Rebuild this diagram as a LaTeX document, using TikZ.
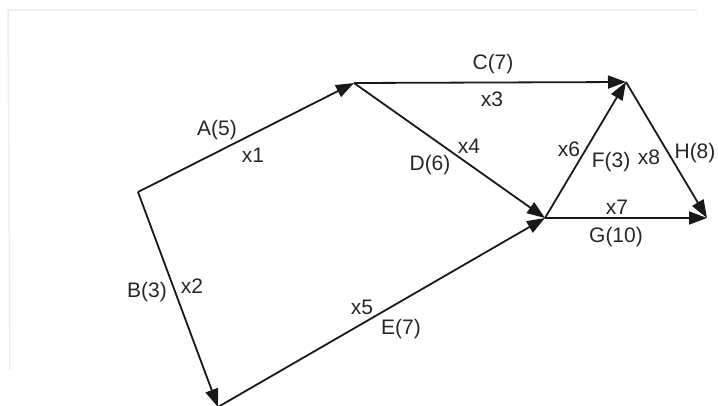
\documentclass[tikz,border=0pt]{standalone}
\usepackage{fontspec}
\setmainfont{Liberation Sans}
\usetikzlibrary{arrows.meta}
\begin{document}
\begin{tikzpicture}[x=1pt,y=-1pt,
  edge/.style={draw=black!90, line width=1.8pt, -{Triangle[length=18pt,width=13pt]}},
  lbl/.style={font=\fontsize{21}{21}\selectfont, text=black!85, inner sep=0pt, anchor=center},
  frame/.style={draw=black!7, line width=1.5pt}]
\useasboundingbox (0,0) rectangle (718,405);
% faint frame
\coordinate (f1) at (8,10);
\coordinate (f2) at (697,10);
\coordinate (f3) at (10,370);
\draw[frame] (f2) -- (f1) -- (f3);
% vertices
\coordinate (n1) at (138,192);
\coordinate (n2) at (354,83);
\coordinate (n3) at (626,82);
\coordinate (n4) at (545,218);
\coordinate (n5) at (218,407);
\coordinate (n6) at (707,218);
% edges
\draw[edge] (n1) -- (n2);
\draw[edge] (n1) -- (n5);
\draw[edge] (n2) -- (n3);
\draw[edge] (n2) -- (n4);
\draw[edge] (n5) -- (n4);
\draw[edge] (n4) -- (n3);
\draw[edge] (n4) -- (n6);
\draw[edge] (n3) -- (n6);
% labels
\node[lbl] (lA) at (217,130) {A(5)};
\node[lbl] (l1) at (253,155) {x1};
\node[lbl] (lB) at (147,292) {B(3)};
\node[lbl] (l2) at (192,286) {x2};
\node[lbl] (lC) at (493,64) {C(7)};
\node[lbl] (l3) at (492,99) {x3};
\node[lbl] (l4) at (469,146) {x4};
\node[lbl] (lD) at (430,165) {D(6)};
\node[lbl] (l5) at (362,307) {x5};
\node[lbl] (lE) at (401,329) {E(7)};
\node[lbl] (l6) at (569,149) {x6};
\node[lbl] (lF) at (611,162) {F(3)};
\node[lbl] (l8) at (649,157) {x8};
\node[lbl] (lH) at (695,153) {H(8)};
\node[lbl] (l7) at (617,207) {x7};
\node[lbl] (lG) at (616,237) {G(10)};
\end{tikzpicture}
\end{document}
